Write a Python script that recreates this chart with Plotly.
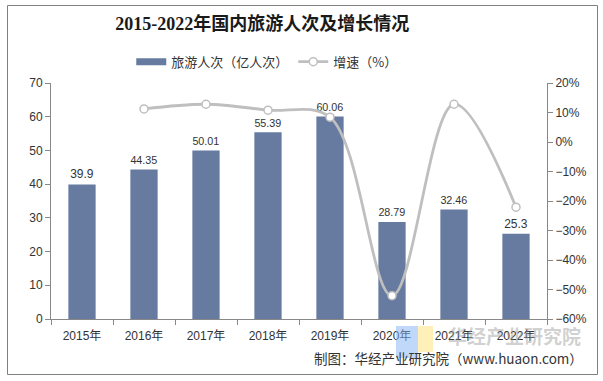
import plotly.graph_objects as go

years = ["2015年", "2016年", "2017年", "2018年", "2019年", "2020年", "2021年", "2022年"]
visitors = [39.9, 44.35, 50.01, 55.39, 60.06, 28.79, 32.46, 25.3]
growth_years = ["2016年", "2017年", "2018年", "2019年", "2020年", "2021年", "2022年"]
growth = [11.2, 12.8, 10.8, 8.4, -52.1, 12.8, -22.1]

FONT = "Liberation Sans, Arial, Noto Sans CJK SC, sans-serif"
BAR_COLOR = "#677ba1"
LINE_COLOR = "#bfbfbf"

# plot area in pixels: x 51..547, y 83..319
PX0, PW, PY0, PH = 51, 496, 319, 236
def px(x):
    return (x - PX0) / PW
def py(y):
    return (PY0 - y) / PH

fig = go.Figure()
fig.add_trace(go.Bar(
    x=years, y=visitors, name="旅游人次（亿人次）",
    marker=dict(color=BAR_COLOR, line=dict(width=0)),
    width=0.44, showlegend=False,
    text=[f"{v:g}" for v in visitors], textposition="outside",
    textfont=dict(size=12, color="#333333", family=FONT),
    cliponaxis=False,
))
# legend entry for bars (wide rectangle symbol)
fig.add_trace(go.Scatter(
    x=[None], y=[None], name="旅游人次（亿人次）", mode="lines",
    line=dict(color=BAR_COLOR, width=7), showlegend=True,
))
fig.add_trace(go.Scatter(
    x=growth_years, y=growth, name="增速（%）", yaxis="y2",
    mode="lines+markers",
    line=dict(color=LINE_COLOR, width=2.8, shape="spline", smoothing=1.0),
    marker=dict(symbol="circle", size=8, color="white", line=dict(color=LINE_COLOR, width=1.5)),
    cliponaxis=False,
))

fig.update_layout(
    width=603, height=381,
    margin=dict(l=51, r=56, t=83, b=62, autoexpand=False),
    paper_bgcolor="white", plot_bgcolor="white",
    font=dict(family=FONT, size=12, color="#333333"),
    title=dict(text="<b>2015-2022年国内旅游人次及增长情况</b>", x=0.435, xanchor="center", y=0.937, yanchor="middle",
               font=dict(family="Liberation Serif, Noto Sans CJK SC, serif", size=18, color="#1a1a1a")),
    legend=dict(orientation="h", x=0.435, xanchor="center", y=1.09, yanchor="middle",
                font=dict(size=13, color="#333333", family="Noto Sans CJK SC, sans-serif"),
                itemwidth=30, traceorder="normal", bgcolor="rgba(0,0,0,0)"),
    xaxis=dict(showgrid=False, showline=True, linecolor="#888888", linewidth=1, automargin=False,
               ticks="outside", tickson="boundaries", ticklen=5, tickcolor="#888888",
               ticklabelstandoff=6,
               tickfont=dict(size=12, color="#333333")),
    yaxis=dict(range=[0, 70], dtick=10, showgrid=False, showline=True, linecolor="#888888", automargin=False,
               ticks="outside", ticklen=5, tickcolor="#888888", zeroline=False,
               tickfont=dict(size=12, color="#333333")),
    yaxis2=dict(range=[-60, 20], dtick=10, overlaying="y", side="right", showgrid=False, automargin=False,
                showline=True, linecolor="#888888", ticks="outside", ticklen=5, tickcolor="#888888",
                ticksuffix="%", zeroline=False, tickfont=dict(size=12, color="#333333")),
    showlegend=True,
)

# outer border
fig.add_shape(type="rect", xref="paper", yref="paper",
              x0=px(7.5), x1=px(597.5), y0=py(374.5), y1=py(5.5),
              line=dict(color="#7f7f7f", width=1), fillcolor="rgba(0,0,0,0)", layer="above")

# watermark logo (open-book shape)
fig.add_shape(type="rect", xref="paper", yref="paper",
              x0=px(396), x1=px(418), y0=py(358), y1=py(326),
              fillcolor="rgba(130,180,245,0.5)", line=dict(width=0), layer="above")
fig.add_shape(type="rect", xref="paper", yref="paper",
              x0=px(418), x1=px(433), y0=py(352), y1=py(326),
              fillcolor="rgba(255,230,140,0.6)", line=dict(width=0), layer="above")
fig.add_annotation(text="<b>华经产业研究院</b>", xref="paper", yref="paper",
                   x=px(514), xanchor="center", y=py(335), yanchor="middle", showarrow=False,
                   font=dict(size=19, color="rgba(150,150,150,0.45)", family="Noto Sans CJK SC, sans-serif"))
fig.add_annotation(text="制图：华经产业研究院（www.huaon.com）", xref="paper", yref="paper",
                   x=px(585), xanchor="right", y=py(358), yanchor="middle", showarrow=False,
                   font=dict(size=13.5, color="#333333", family="Noto Sans CJK SC, sans-serif"))

fig.write_html("out.html", config={"displayModeBar": False},
               post_script="document.body.style.margin='0';document.body.style.overflow='hidden';")
